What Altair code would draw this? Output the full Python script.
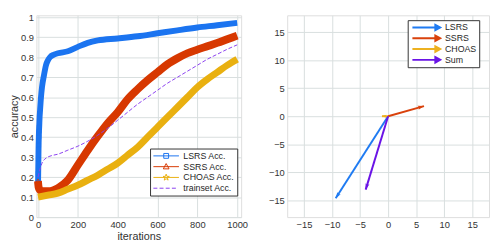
import math
import altair as alt
import pandas as pd

# ---------------- data ----------------
lsrs_iter = [0, 1, 2, 3, 4, 5, 6, 8, 10, 15, 20, 30, 40, 50, 60, 80, 100, 150, 200, 250,
             300, 400, 500, 600, 700, 800, 900, 1000]
lsrs_acc = [0.15, 0.22, 0.29, 0.36, 0.40, 0.43, 0.45, 0.50, 0.53, 0.60, 0.65, 0.71, 0.76, 0.785,
            0.80, 0.813, 0.82, 0.83, 0.852, 0.872, 0.884, 0.894, 0.905, 0.92, 0.935, 0.949,
            0.96, 0.972]
ssrs_iter = [0, 3, 10, 30, 60, 100, 150, 200, 250, 300, 350, 400, 450, 500, 550, 600, 650,
             700, 750, 800, 850, 900, 950, 1000]
ssrs_acc = [0.18, 0.15, 0.135, 0.13, 0.13, 0.145, 0.185, 0.26, 0.335, 0.405, 0.47, 0.525,
            0.59, 0.64, 0.685, 0.725, 0.765, 0.795, 0.82, 0.838, 0.855, 0.872, 0.89, 0.908]
choas_iter = [0, 50, 100, 150, 200, 250, 300, 350, 400, 450, 500, 550, 600, 650, 700, 750,
              800, 850, 900, 950, 1000]
choas_acc = [0.10, 0.11, 0.12, 0.14, 0.16, 0.185, 0.21, 0.24, 0.27, 0.31, 0.35, 0.40, 0.45,
             0.50, 0.55, 0.60, 0.65, 0.69, 0.725, 0.76, 0.79]
train_iter = [0, 10, 20, 40, 60, 100, 150, 200, 250, 300, 350, 400, 450, 500, 550, 600, 650,
              700, 750, 800, 850, 900, 950, 1000]
train_acc = [0.20, 0.24, 0.27, 0.295, 0.305, 0.315, 0.335, 0.355, 0.38, 0.41, 0.445, 0.485,
             0.525, 0.565, 0.60, 0.635, 0.67, 0.70, 0.73, 0.76, 0.79, 0.815, 0.84, 0.862]

acc_series = ["LSRS Acc.", "SSRS Acc.", "CHOAS Acc.", "trainset Acc."]
acc_colors = ["#1b74f0", "#d73800", "#e9b010", "#8a3ff0"]

vec_names = ["LSRS", "SSRS", "CHOAS", "Sum"]
vec_x = [-9.35, 6.4, -1.1, -4.0]
vec_y = [-14.65, 1.8, 0.0, -13.1]
vec_colors = ["#1f7bf2", "#d9420c", "#edb120", "#6a14e6"]

x_ticks = [0, 200, 400, 600, 800, 1000]
y_ticks = [0, 0.1, 0.2, 0.3, 0.4, 0.5, 0.6, 0.7, 0.8, 0.9, 1.0]
q_ticks = [-15, -10, -5, 0, 5, 10, 15]

FONT = "Liberation Sans"

def axis(**kw):
    base = dict(grid=True, gridColor="#d8dede", gridOpacity=1, gridWidth=1,
                ticks=False, domain=False, labelFont=FONT, labelFontSize=9.5,
                labelColor="#333333", labelPadding=3, titleFont=FONT,
                titleFontSize=11, titleFontWeight=400, titleColor="#333333",
                titlePadding=1, labelOverlap=False)
    base.update(kw)
    return alt.Axis(**base)

# ---------------- left panel ----------------
def frame(it, ac, name):
    return pd.DataFrame({"iter": it, "acc": ac, "series": name})

df_l = frame(lsrs_iter, lsrs_acc, acc_series[0])
df_s = frame(ssrs_iter, ssrs_acc, acc_series[1])
df_c = frame(choas_iter, choas_acc, acc_series[2])
df_t = frame(train_iter, train_acc, acc_series[3])
df_all = pd.concat([df_l, df_s, df_c, df_t], ignore_index=True)

xs = alt.X("iter:Q", scale=alt.Scale(domain=[-8, 1020], nice=False, zero=False),
           axis=axis(values=x_ticks, format="d", title="iterations",
                     labelPadding=3, titlePadding=1))
ys = alt.Y("acc:Q", scale=alt.Scale(domain=[0, 1.01], nice=False),
           axis=axis(values=y_ticks, format=".1~f", title="accuracy"))

def line_layer(df, color, width, dash=None):
    kw = dict(color=color, strokeWidth=width, interpolate="monotone")
    if dash:
        kw["strokeDash"] = dash
    return alt.Chart(df).mark_line(**kw).encode(x=xs, y=ys)

def star_path(cx, r_out, r_in):
    pts = []
    for i in range(10):
        r = r_out if i % 2 == 0 else r_in
        a = -math.pi / 2 + i * math.pi / 5
        pts.append((cx + r * math.cos(a), r * math.sin(a)))
    return "M" + "L".join(f"{px:.3f},{py:.3f}" for px, py in pts) + "Z"

LINE = "M-0.8,0H5.0"
cx = 2.1
sym_paths = [
    LINE + f"M{cx-0.55},-0.55H{cx+0.55}V0.55H{cx-0.55}Z",
    LINE + f"M{cx},-0.7L{cx+0.65},0.5H{cx-0.65}Z",
    LINE + star_path(cx, 0.75, 0.3),
    "M-0.8,0H0.1M0.6,0H1.5M2.0,0H2.9M3.4,0H4.3",
]

leg_left = alt.Legend(title=None, orient="none", legendX=116, legendY=136,
                      strokeColor="#333333", fillColor="white", padding=2,
                      symbolSize=81, symbolStrokeWidth=1, labelOffset=22,
                      rowPadding=0, clipHeight=11, labelFontSize=9, labelFont=FONT,
                      labelColor="#262626")

legend_left = alt.Chart(df_all).transform_filter("false").mark_point(
    filled=False, opacity=1).encode(
    x=xs, y=ys,
    color=alt.Color("series:N", scale=alt.Scale(domain=acc_series, range=acc_colors),
                    legend=leg_left),
    shape=alt.Shape("series:N", scale=alt.Scale(domain=acc_series, range=sym_paths),
                    legend=leg_left),
)

marks_l = alt.Chart(df_l[df_l["iter"] <= 6]).mark_point(
    shape="square", filled=False, size=16, color=acc_colors[0], strokeWidth=1,
    opacity=0.8).encode(x=xs, y=ys)
marks_s = alt.Chart(df_s[df_s["iter"] == 0]).mark_point(
    shape="triangle-up", filled=False, size=28, color=acc_colors[1], strokeWidth=1,
    opacity=0.8).encode(x=xs, y=ys)

left = alt.layer(
    line_layer(df_l, acc_colors[0], 6),
    marks_l,
    line_layer(df_s, acc_colors[1], 8),
    marks_s,
    line_layer(df_c, acc_colors[2], 7),
    line_layer(df_t, acc_colors[3], 1, [4, 2]),
    legend_left,
).properties(width=209, height=206)

# ---------------- right panel ----------------
df_v = pd.DataFrame({"name": vec_names, "x": vec_x, "y": vec_y})
df_v["x0"] = 0.0
df_v["y0"] = 0.0

qsc = alt.Scale(domain=[-18, 18], nice=False)
qx = alt.X("x0:Q", scale=qsc, axis=axis(values=q_ticks, title=None))
qy = alt.Y("y0:Q", scale=qsc, axis=axis(values=q_ticks, title=None))

shafts = alt.Chart(df_v).mark_rule(strokeWidth=2).encode(
    x=qx, y=qy, x2="x:Q", y2="y:Q",
    stroke=alt.Stroke("name:N", scale=alt.Scale(domain=vec_names, range=vec_colors),
                      legend=None))

HEAD = "M0,0L0.75,2.3L0,1.8L-0.75,2.3Z"
heads = alt.Chart(df_v).transform_calculate(
    ang="(atan2(datum.x, datum.y) * 180 / PI + 360) % 360",
    hs="min(30, 14 * sqrt(datum.x * datum.x + datum.y * datum.y))",
).mark_point(shape=HEAD, filled=True, opacity=1).encode(
    x=alt.X("x:Q", scale=qsc, axis=axis(values=q_ticks, title=None)),
    y=alt.Y("y:Q", scale=qsc, axis=axis(values=q_ticks, title=None)),
    angle=alt.Angle("ang:Q", scale=None),
    size=alt.Size("hs:Q", scale=None),
    fill=alt.Fill("name:N", scale=alt.Scale(domain=vec_names, range=vec_colors),
                  legend=None),
)

ARROW = "M-0.6,0H5.3M4.6,-0.6L5.7,0L4.6,0.6Z"
leg_right = alt.Legend(title=None, orient="none", legendX=123, legendY=5,
                       strokeColor="#333333", fillColor="white", padding=2,
                       symbolSize=81, symbolStrokeWidth=2, labelOffset=25,
                       rowPadding=0, clipHeight=11, labelFontSize=9, labelFont=FONT,
                       labelColor="#262626")
legend_right = alt.Chart(df_v).transform_filter("false").mark_point(
    filled=False, opacity=1).encode(
    x=qx, y=qy,
    color=alt.Color("name:N", scale=alt.Scale(domain=vec_names, range=vec_colors),
                    legend=leg_right),
    shape=alt.Shape("name:N", scale=alt.Scale(domain=vec_names, range=[ARROW] * 4),
                    legend=leg_right),
)

right = alt.layer(shafts, heads, legend_right).properties(width=206, height=206)

chart = alt.hconcat(left, right, spacing=14).resolve_scale(
    color="independent", shape="independent"
).resolve_legend(
    color="independent", shape="independent"
).properties(
    padding={"left": 0, "top": 0, "right": 0, "bottom": 0}
).configure_view(
    stroke="#555555", strokeWidth=1
).configure(background="white")

chart.save("out.html", embed_options={"renderer": "svg", "actions": False})
